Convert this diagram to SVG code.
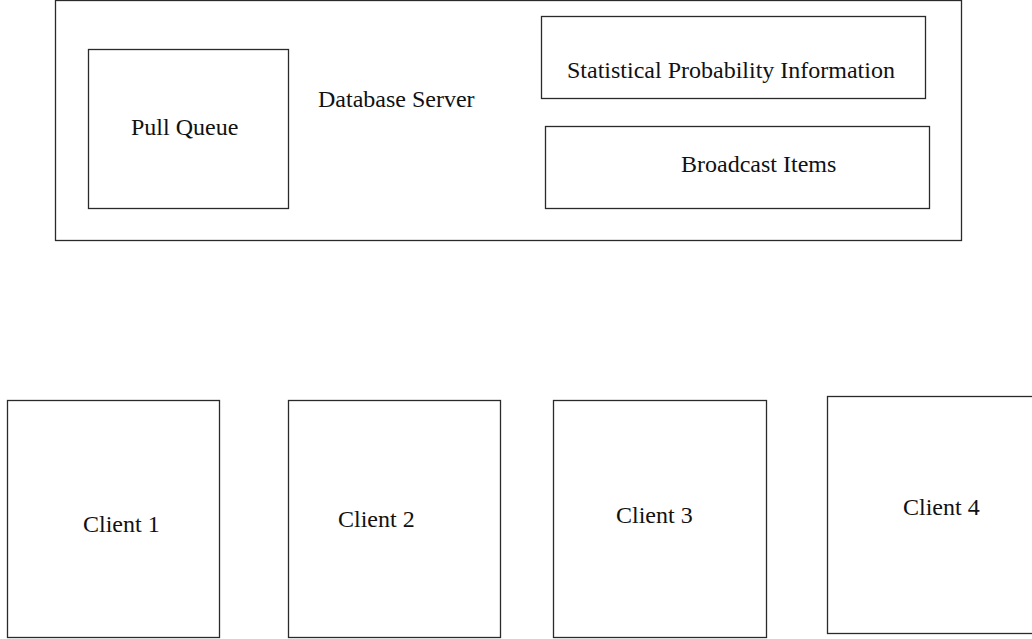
<svg xmlns="http://www.w3.org/2000/svg" width="1032" height="639" viewBox="0 0 1032 639">
  <style>
    .box { fill: none; stroke: #2a2a2a; stroke-width: 1.3; }
    .lbl { font-family: "Liberation Serif", "Times New Roman", serif; font-size: 24px; fill: #111; }
  </style>
  <rect width="1032" height="639" fill="#ffffff"/>

  <!-- server container -->
  <g id="database-server">
    <rect class="box" x="55.5" y="0.5" width="906" height="240"/>
    <text class="lbl" x="318" y="107">Database Server</text>
  </g>

  <g id="pull-queue">
    <rect class="box" x="88.5" y="49.5" width="200" height="159"/>
    <text class="lbl" x="131" y="135">Pull Queue</text>
  </g>

  <g id="statistical-probability-information">
    <rect class="box" x="541.5" y="16.5" width="384" height="82"/>
    <text class="lbl" x="567" y="78">Statistical Probability Information</text>
  </g>

  <g id="broadcast-items">
    <rect class="box" x="545.5" y="126.5" width="384" height="82"/>
    <text class="lbl" x="681" y="172">Broadcast Items</text>
  </g>

  <!-- clients -->
  <g id="client-1">
    <rect class="box" x="7.5" y="400.5" width="212" height="237"/>
    <text class="lbl" x="83" y="532">Client 1</text>
  </g>

  <g id="client-2">
    <rect class="box" x="288.5" y="400.5" width="212" height="237"/>
    <text class="lbl" x="338" y="527">Client 2</text>
  </g>

  <g id="client-3">
    <rect class="box" x="553.5" y="400.5" width="213" height="237"/>
    <text class="lbl" x="616" y="523">Client 3</text>
  </g>

  <g id="client-4">
    <rect class="box" x="827.5" y="396.5" width="215" height="237"/>
    <text class="lbl" x="903" y="515">Client 4</text>
  </g>

  <g id="connectors"></g>
</svg>
